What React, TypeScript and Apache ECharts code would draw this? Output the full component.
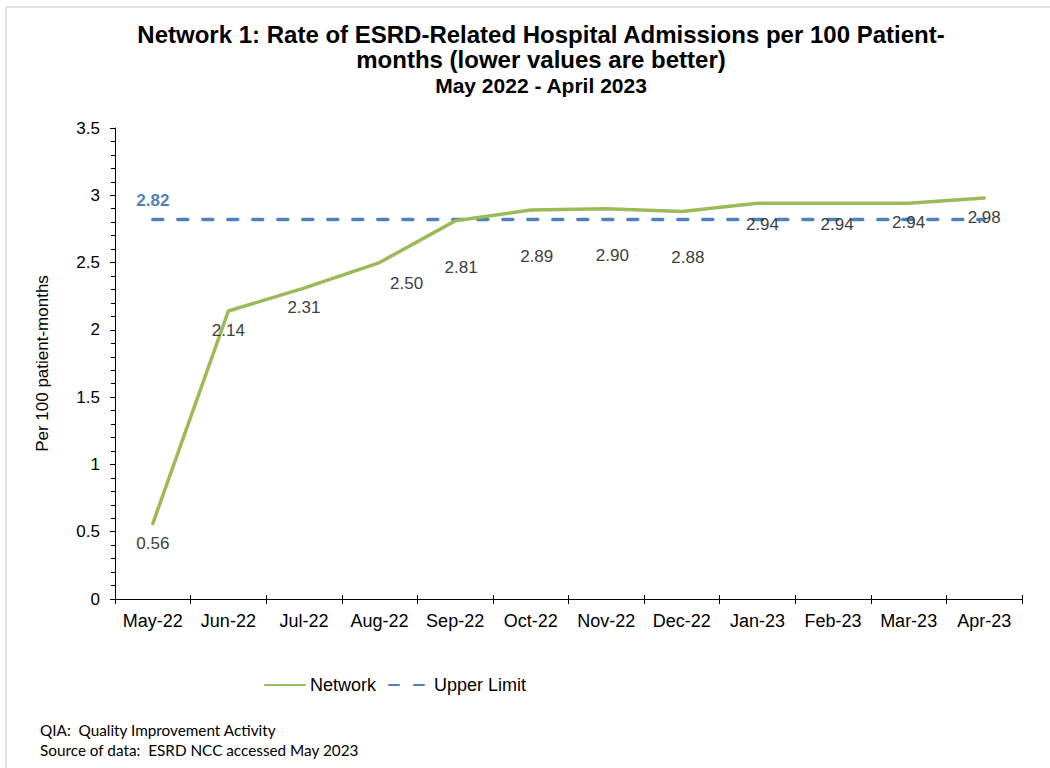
import React, { useEffect, useRef } from "react";
import * as echarts from "echarts";

const months = ["May-22", "Jun-22", "Jul-22", "Aug-22", "Sep-22", "Oct-22", "Nov-22", "Dec-22", "Jan-23", "Feb-23", "Mar-23", "Apr-23"];
const networkRates = [0.56, 2.14, 2.31, 2.5, 2.81, 2.89, 2.9, 2.88, 2.94, 2.94, 2.94, 2.98];
const upperLimit = [2.82, 2.82, 2.82, 2.82, 2.82, 2.82, 2.82, 2.82, 2.82, 2.82, 2.82, 2.82];
// label nudges copied from the hand-placed labels of the original
const labelNudges: [number, number][] = [[0, 0], [0, 0], [0, 0], [27, 1], [6, 27], [6, 27], [6, 27], [6, 27], [5, 2], [4, 2], [0, 0], [0, 0]];

const titleText = "Network 1: Rate of ESRD-Related Hospital Admissions per 100 Patient-\nmonths (lower values are better)";
const subtitleText = "May 2022 - April 2023";
const yAxisName = "Per 100 patient-months";
const footnotes = ["QIA:  Quality Improvement Activity", "Source of data:  ESRD NCC accessed May 2023"];

const GREEN = "#9BBB59";
const BLUE = "#4F81BD";
const FONT = "Arial";

export default function App() {
  const ref = useRef<HTMLDivElement>(null);
  useEffect(() => {
    if (!ref.current) return;
    const chart = echarts.init(ref.current, null, { renderer: "svg" });
    chart.setOption({
      animation: false,
      backgroundColor: "#fff",
      textStyle: { fontFamily: FONT },
      title: {
        text: titleText,
        subtext: subtitleText,
        left: 536,
        top: 17,
        textAlign: "center",
        itemGap: 2,
        textStyle: { fontFamily: FONT, fontSize: 24, fontWeight: "bold", color: "#000", lineHeight: 25 },
        subtextStyle: { fontFamily: FONT, fontSize: 21, fontWeight: "bold", color: "#000", lineHeight: 22 },
      },
      legend: {
        left: 259,
        top: 671,
        itemWidth: 40,
        itemHeight: 12,
        itemGap: 12,
        itemStyle: { opacity: 0 },
        textStyle: { fontFamily: FONT, fontSize: 18, color: "#000" },
        data: ["Network", "Upper Limit"],
      },
      grid: { left: 115, right: 28, top: 128, bottom: 169 },
      xAxis: [
        {
          type: "category",
          data: months,
          boundaryGap: true,
          axisLine: { lineStyle: { color: "#000", width: 1 } },
          axisTick: { show: true, length: 5, interval: 0, lineStyle: { color: "#000" } },
          axisLabel: { color: "#000", fontSize: 18, margin: 13, interval: 0, fontFamily: FONT },
        },
        {
          type: "category",
          data: months,
          position: "bottom",
          boundaryGap: true,
          axisLine: { show: false },
          axisTick: { show: true, inside: true, length: 4, interval: 0, lineStyle: { color: "#000" } },
          axisLabel: { show: false },
        },
      ],
      yAxis: {
        type: "value",
        min: 0,
        max: 3.5,
        interval: 0.5,
        name: yAxisName,
        nameLocation: "middle",
        nameGap: 64,
        nameTextStyle: { fontFamily: FONT, fontSize: 17, color: "#000" },
        axisLine: { show: true, lineStyle: { color: "#000", width: 1 } },
        axisTick: { show: true, length: 5, lineStyle: { color: "#000" } },
        minorTick: { show: true, splitNumber: 5, length: 4, lineStyle: { color: "#000" } },
        splitLine: { show: false },
        axisLabel: { color: "#000", fontSize: 17, margin: 15, fontFamily: FONT },
      },
      series: [
        {
          name: "Network",
          type: "line",
          xAxisIndex: 0,
          data: networkRates,
          symbol: "circle",
          symbolSize: 0,
          showSymbol: true,
          lineStyle: { color: GREEN, width: 3.5, cap: "round", join: "round" },
          itemStyle: { color: GREEN },
          label: {
            show: true,
            position: "bottom",
            distance: 11,
            color: "#404040",
            fontSize: 17,
            fontFamily: FONT,
            formatter: (p: any) => Number(p.value).toFixed(2),
          },
          labelLayout: (p: any) => {
            const n = labelNudges[p.dataIndex] || [0, 0];
            return { dx: n[0], dy: n[1], hideOverlap: false };
          },
          z: 3,
        },
        {
          name: "Upper Limit",
          type: "line",
          xAxisIndex: 0,
          data: upperLimit.map((v, i) => ({
            value: v,
            label: { show: i === 0 },
          })),
          symbol: "circle",
          symbolSize: 0,
          showSymbol: true,
          lineStyle: { color: BLUE, width: 3.5, type: [10, 15], cap: "round" },
          itemStyle: { color: BLUE },
          label: {
            show: false,
            position: "top",
            distance: 11,
            color: BLUE,
            fontSize: 17,
            fontWeight: "bold",
            fontFamily: FONT,
            formatter: (p: any) => Number(p.value).toFixed(2),
          },
          z: 2,
        },
      ],
      graphic: [
        { type: "line", shape: { x1: 6, y1: 7, x2: 1050, y2: 7 }, style: { stroke: "#d9d9d9", lineWidth: 1.5 } },
        { type: "line", shape: { x1: 6, y1: 7, x2: 6, y2: 768 }, style: { stroke: "#d9d9d9", lineWidth: 1.5 } },
        {
          type: "text",
          left: 40,
          top: 722,
          style: { text: footnotes[0], fontFamily: "Lato", fontSize: 15.3, fill: "#000" },
        },
        {
          type: "text",
          left: 40,
          top: 742,
          style: { text: footnotes[1], fontFamily: "Lato", fontSize: 15.3, fill: "#000" },
        },
      ],
    });
    return () => chart.dispose();
  }, []);
  return <div ref={ref} style={{ position: "absolute", left: 0, top: 0, width: 1050, height: 768 }} />;
}
